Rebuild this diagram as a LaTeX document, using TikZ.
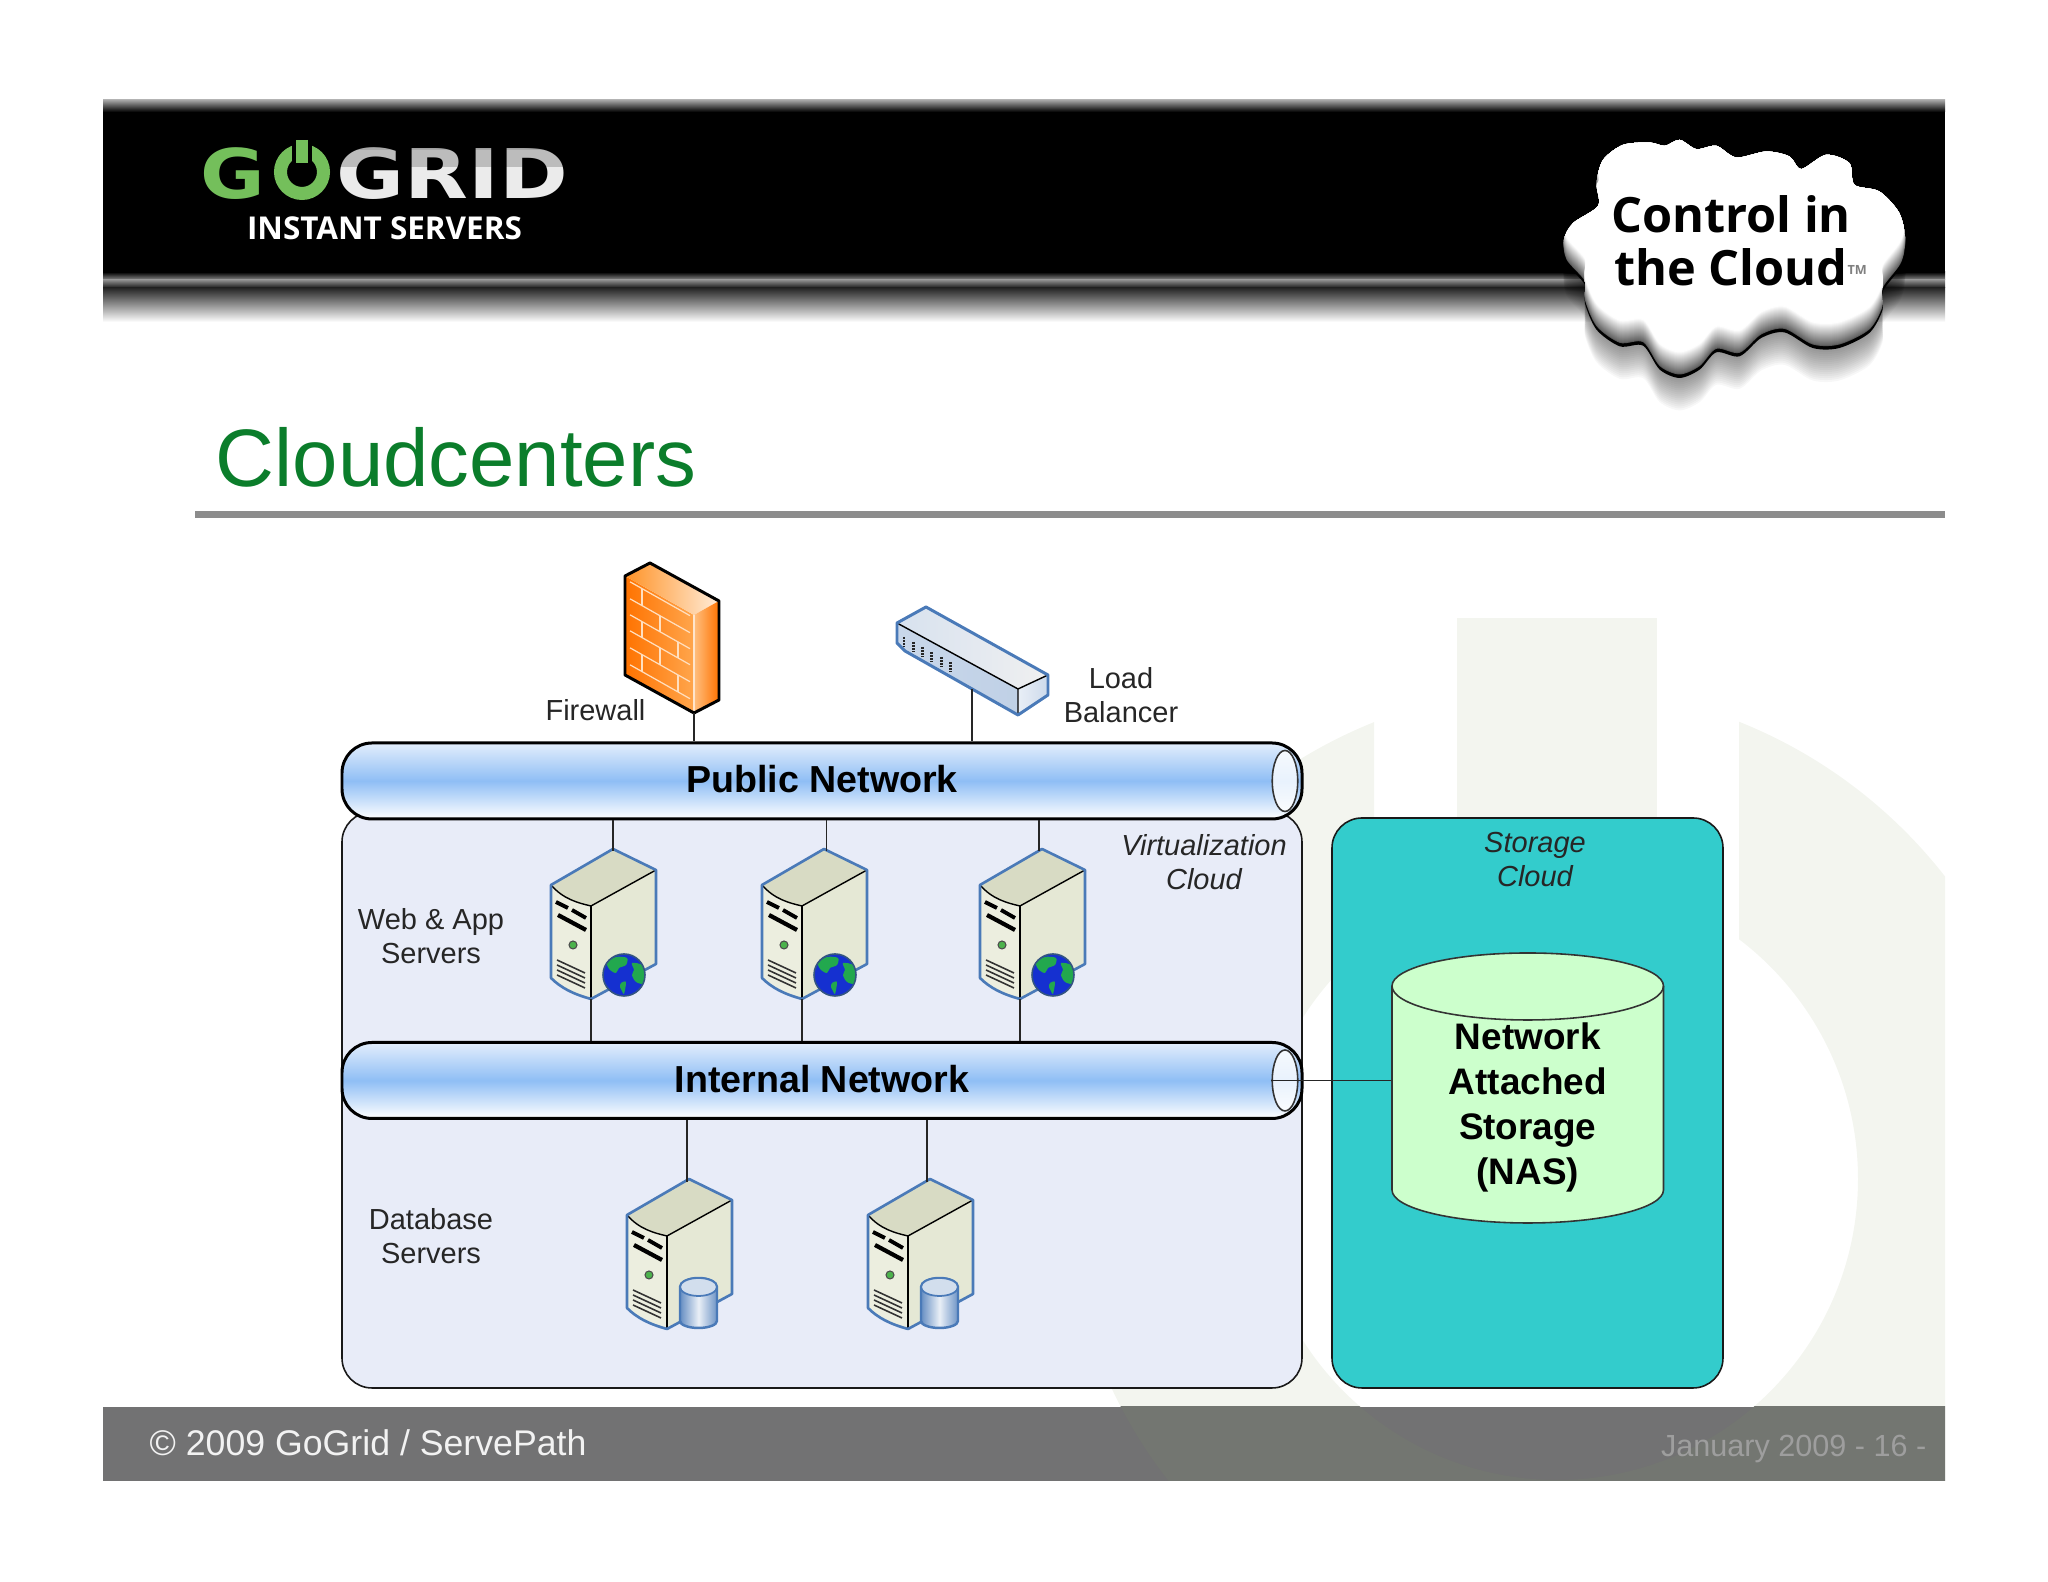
\documentclass[tikz,border=0pt]{standalone}
\usepackage{fontspec}
\setmainfont{Liberation Sans}
\newfontfamily\logofont{Open Sans}
\newfontfamily\logowide{DejaVu Sans}
\usetikzlibrary{shapes.geometric}

\definecolor{titlegreen}{HTML}{0B7D2B}
\definecolor{virtfill}{HTML}{E8ECF8}
\definecolor{storefill}{HTML}{33CCCC}
\definecolor{nasfill}{HTML}{CCFFCC}
\definecolor{pipemid}{HTML}{8FBEF5}
\definecolor{pipetop}{HTML}{E3EEFC}
\definecolor{srvblue}{HTML}{4A7AB8}
\definecolor{srvtop}{HTML}{D8DBC4}
\definecolor{srvfront}{HTML}{ECEEDF}
\definecolor{srvside}{HTML}{E5E8D5}
\definecolor{footgray}{HTML}{727273}
\definecolor{marktint}{HTML}{F3F5EF}
\definecolor{footmark}{HTML}{737671}
\definecolor{logogreen}{HTML}{74BF5B}
\definecolor{landgreen}{HTML}{22A84E}
\definecolor{seablue}{HTML}{1530D0}

\newcommand{\powerring}{(15.57,4.03) circle (4.92) (15.57,4.03) circle (3.01)}
\newcommand{\cloudshape}{plot[smooth cycle,tension=.5] coordinates {(170,190) (190,120) (250,75) (330,68) (375,78) (420,60) (470,88) (530,78) (590,113) (680,95) (750,110) (785,148) (860,105) (930,130) (945,195) (1020,215) (1080,280) (1098,360) (1085,430) (1030,505) (1030,560) (990,630) (900,675) (820,675) (735,628) (665,645) (600,700) (530,688) (480,740) (420,765) (360,740) (310,668) (240,670) (170,620) (135,540) (135,485) (80,420) (72,360) (100,310) (175,258)}}

\tikzset{
  link/.style={draw=black!85,line width=.5pt},
  netpipe/.style={draw=black,line width=.85pt,rounded corners=.3cm,minimum width=9.6cm,minimum height=.76cm,
    top color=pipetop,bottom color=white,middle color=pipemid,inner sep=0pt,font=\fontsize{10.7}{13}\selectfont\bfseries},
  pipeend/.style={ellipse,draw=black!80,fill=white,fill opacity=.8,line width=.45pt,minimum width=.255cm,minimum height=.61cm,inner sep=0pt},
  lbl/.style={align=center,inner sep=0pt,font=\fontsize{8.25}{9.7}\selectfont,text=black!85},
  cloudlbl/.style={lbl,font=\fontsize{8.25}{9.7}\selectfont\itshape},
  srvedge/.style={draw=srvblue,line width=.75pt,line join=round},
  servericon/.pic={
    \fill[srvside] (-.22,-.57) -- (.43,-.21) -- (.43,-1.15) -- (-.22,-1.50) -- cycle;
    \fill[srvfront] (-.62,-.36) .. controls (-.5,-.5) and (-.35,-.54) .. (-.22,-.57) -- (-.22,-1.50) .. controls (-.4,-1.45) and (-.52,-1.39) .. (-.62,-1.29) -- cycle;
    \fill[srvtop] (0,0) -- (.43,-.21) -- (-.22,-.57) .. controls (-.35,-.54) and (-.5,-.5) .. (-.62,-.36) -- cycle;
    \draw[black,line width=.4pt] (-.62,-.36) .. controls (-.5,-.5) and (-.35,-.54) .. (-.22,-.57) -- (.43,-.21);
    \draw[black,line width=.4pt] (-.22,-.57) -- (-.22,-1.50);
    \draw[srvedge] (0,0) -- (.43,-.21) -- (.43,-1.15) -- (-.22,-1.50) .. controls (-.4,-1.45) and (-.52,-1.39) .. (-.62,-1.29) -- (-.62,-.36) -- cycle;
    \draw[black,line width=1.1pt] (-.57,-.53) -- (-.45,-.59) (-.41,-.61) -- (-.27,-.69);
    \draw[black,line width=1.2pt] (-.55,-.66) -- (-.27,-.81);
    \fill[green!40!gray,draw=black!70,line width=.3pt] (-.40,-.96) circle (.04);
    \foreach \v in {0,1,2,3}
      \draw[black!80,line width=.45pt] (-.56,-1.11-.05*\v) -- (-.28,-1.24-.05*\v);
    \coordinate (-base) at (-.22,-1.50);
  },
  globeicon/.pic={
    \fill[seablue] (0,0) circle (.21);
    \begin{scope}
      \clip (0,0) circle (.21);
      \fill[landgreen] plot[smooth cycle] coordinates {(-.17,.12) (-.08,.18) (.03,.17) (.02,.1) (-.05,.07) (-.08,.02) (-.14,.05)};
      \fill[landgreen] plot[smooth cycle] coordinates {(.08,.12) (.19,.09) (.2,-.08) (.12,-.07) (.08,.0) (.1,.05)};
      \fill[landgreen] plot[smooth cycle] coordinates {(-.03,-.08) (.02,-.07) (.0,-.19) (-.02,-.16) (-.04,-.12)};
    \end{scope}
    \draw[srvblue!70!black,line width=.45pt] (0,0) circle (.21);
  },
  canicon/.pic={
    \shade[left color=srvblue!85,right color=srvblue!80,middle color=srvblue!12,draw=srvblue,line width=.7pt]
      (-.185,0) -- (-.185,-.34) arc[start angle=180,end angle=360,x radius=.185,y radius=.07] -- (.185,0) arc[start angle=0,end angle=180,x radius=.185,y radius=.09] -- cycle;
    \draw[srvblue,line width=.5pt,fill=srvblue!25] (0,0) ellipse[x radius=.185,y radius=.09];
  },
  firewallicon/.pic={
    \shade[left color=orange!90!red,right color=orange!70!white] (0,0) -- (.69,-.39) -- (.69,-1.37) -- (0,-.99) -- cycle;
    \shade[left color=orange!85,right color=orange!15!white] (0,0) -- (.25,.13) -- (.94,-.25) -- (.69,-.39) -- cycle;
    \shade[left color=orange!50!white,right color=orange!90!red] (.69,-.39) -- (.94,-.25) -- (.94,-1.24) -- (.69,-1.37) -- cycle;
    \begin{scope}[cm={1,-.565,0,1,(0,0)}]
      \foreach \v in {-.03,-.2,-.36,-.52,-.69,-.86}
        \draw[orange!25!white,line width=.35pt] (.05,\v) -- (.65,\v);
      \foreach \u/\va/\vb in {.17/-.03/-.2,.35/-.2/-.36,.17/-.36/-.52,.53/-.36/-.52,.35/-.52/-.69,.17/-.69/-.86,.53/-.69/-.86}
        \draw[orange!25!white,line width=.35pt] (\u,\va) -- (\u,\vb);
    \end{scope}
    \draw[orange!20!white,line width=.4pt] (.69,-.39) -- (.69,-1.37);
    \draw[black,line width=.85pt,line join=round] (0,0) -- (.25,.13) -- (.94,-.25) -- (.94,-1.24) -- (.69,-1.37) -- (0,-.99) -- cycle;
    \coordinate (-base) at (.69,-1.37);
  },
  balancericon/.pic={
    \shade[left color=srvblue!22,right color=black!6] (0,0) -- (.29,.16) -- (1.51,-.52) -- (1.21,-.66) -- cycle;
    \shade[left color=srvblue!30,right color=srvblue!35] (0,0) -- (1.21,-.66) -- (1.21,-.92) -- (.08,-.28) -- (0,-.2) -- cycle;
    \shade[left color=srvblue!12,right color=srvblue!28] (1.21,-.66) -- (1.51,-.52) -- (1.51,-.72) -- (1.21,-.92) -- cycle;
    \draw[black,line width=.4pt] (0,0) -- (1.21,-.66) -- (1.51,-.52) (1.21,-.66) -- (1.21,-.92);
    \draw[srvedge,line width=.85pt] (0,0) -- (.29,.16) -- (1.51,-.52) -- (1.51,-.72) -- (1.21,-.92) -- (.08,-.28) -- (0,-.2) -- cycle;
    \foreach \i in {0,...,5}
      \draw[black!85,line width=.8pt,dash pattern=on .6pt off .3pt] ({.07+.093*\i},{-.14-.05*\i}) -- ++(0,-.1);
    \coordinate (-base) at (.75,-.66);
  }
}

\begin{document}
\begin{tikzpicture}
\useasboundingbox (0,0) rectangle (20.48,15.82);

% background mark
\begin{scope}
  \clip (1.03,4.03) rectangle (13.74,14) (17.39,4.03) rectangle (19.45,14) (1.03,1.01) rectangle (19.45,4.03);
  \fill[marktint,even odd rule] \powerring;
\end{scope}
\fill[marktint] (14.57,9.64) rectangle (16.57,6);

% header
\shade[top color=black!35,bottom color=black] (1.03,14.82) rectangle (19.45,14.70);
\fill[black] (1.03,14.70) rectangle (19.45,13.10);
\shade[top color=black,bottom color=black!45] (1.03,13.10) rectangle (19.45,13.02);
\shade[top color=black!45,bottom color=black!90] (1.03,13.02) rectangle (19.45,12.94);
\shade[top color=black!85,middle color=black!45,bottom color=white] (1.03,12.94) rectangle (19.45,12.60);

% logo
\node[anchor=base west,inner sep=0pt,text=logogreen] (logog) at (2.00,13.83) {\logowide\fontsize{19.5}{20}\selectfont\bfseries\scalebox{1.15}[1]{G}};
\node[anchor=base west,inner sep=0pt,text=black!8] (logogrid) at (3.36,13.83) {\logowide\fontsize{19.5}{20}\selectfont\bfseries\scalebox{1.21}[1]{GRID}};
\draw[logogreen,line width=.13cm] (3.02,14.10) circle (.215);
\draw[black,line width=.2cm] (3.02,14.42) -- (3.02,14.12);
\draw[logogreen,line width=.12cm] (3.02,14.42) -- (3.02,14.19);
\foreach \y in {14.32,14.36,14.40,14.44,14.48,14.52}
  \fill[black,opacity=.1] (3.3,14.6) rectangle (5.7,\y);
\fill[black,opacity=.2] (3.3,14.6) rectangle (5.7,14.15);
\node[anchor=base,inner sep=0pt,text=white] (logosub) at (3.845,13.42) {\logofont\fontsize{8.95}{10}\selectfont\bfseries INSTANT SERVERS};

% cloud badge
\begin{scope}[shift={(15.40,14.62)},x=.003333cm,y=-.003333cm]
  \foreach \s in {36,34,...,2}
    \fill[black,opacity=.03,yshift=-\s*.01cm] \cloudshape;
  \fill[black,yshift=-.035cm] \cloudshape;
  \begin{scope}
    \clip \cloudshape;
    \fill[black!65] (0,0) rectangle (1200,800);
    \foreach \s in {1,...,24} {
      \pgfmathsetmacro\g{max(0,62-2.8*\s)}
      \fill[black!\g,yshift=\s*.01cm] \cloudshape;
    }
  \end{scope}
\end{scope}
\node[align=center,inner sep=0pt,text=black,font=\logofont\fontsize{13.85}{15.2}\selectfont\bfseries] (badge) at (17.31,13.41) {Control in\\the Cloud\rlap{\fontsize{3.6}{4}\selectfont\raisebox{1.6ex}{\textcolor{black!50}{TM}}}};

% title
\node[anchor=base west,inner sep=0pt,text=titlegreen] (title) at (2.15,10.95) {\fontsize{23.2}{26}\selectfont Cloudcenters};
\fill[black!45] (1.95,10.71) rectangle (19.45,10.64);

% clouds
\draw[draw=black!90,line width=.45pt,fill=virtfill,rounded corners=.3cm] (3.42,7.70) rectangle ++(9.6,-5.76);
\draw[draw=black!90,line width=.45pt,fill=storefill,rounded corners=.3cm] (13.32,7.64) rectangle ++(3.91,-5.70);

\node[cloudlbl] (virtlbl) at (12.04,7.20) {Virtualization\\Cloud};
\node[cloudlbl] (storelbl) at (15.35,7.22) {Storage\\Cloud};
\node[lbl] (weblbl) at (4.31,6.46) {Web \& App\\Servers};
\node[lbl] (dblbl) at (4.31,3.46) {Database\\Servers};
\node[lbl,anchor=base] (fwlbl) at (5.955,8.61) {Firewall};
\node[lbl] (lblbl) at (11.21,8.87) {Load\\Balancer};

% networks
\node[netpipe] (pubnet) at (8.22,8.01) {\raisebox{.035cm}{Public Network}};
\node[netpipe] (intnet) at (8.22,5.015) {\raisebox{.025cm}{Internal Network}};
\node[pipeend] (pubend) at (12.85,8.01) {};
\node[pipeend] (intend) at (12.85,5.015) {};

% storage
\draw[draw=black!80,line width=.45pt,fill=nasfill] (13.92,5.96) -- (13.92,3.92)
  arc[start angle=180,end angle=360,x radius=1.3575,y radius=.33] -- (16.635,5.96)
  arc[start angle=0,end angle=180,x radius=1.3575,y radius=.33] -- cycle;
\draw[draw=black!80,line width=.45pt] (13.92,5.96) arc[start angle=180,end angle=360,x radius=1.3575,y radius=.34];
\node[minimum width=2.715cm,align=center,inner sep=0pt,font=\fontsize{10.5}{12.8}\selectfont\bfseries] (nas) at (15.2775,4.75) {Network\\Attached\\Storage\\(NAS)};

% devices
\pic (fw) at (6.25,10.06) {firewallicon};
\pic (lb) at (8.97,9.59) {balancericon};
\foreach \name/\x/\tap in {web1/6.13/6.13,web2/8.24/8.265,web3/10.42/10.39} {
  \pic (\name) at (\x,7.33) {servericon};
  \pic (\name-globe) at (\x+.11,6.07) {globeicon};
  \coordinate (\name-tap) at (\tap,7.31);
  \draw[link] (\name-tap) -- (\name-tap |- pubnet.south);
  \draw[link] (\name-base) -- (\name-base |- intnet.north);
}
\foreach \name/\x/\tap in {db1/6.89/6.87,db2/9.30/9.27} {
  \pic (\name) at (\x,4.03) {servericon};
  \pic (\name-can) at (\x+.095,2.95) {canicon};
  \coordinate (\name-tap) at (\tap,4.00);
  \draw[link] (\name-tap) -- (\name-tap |- intnet.south);
}

\draw[link] (fw-base) -- (fw-base |- pubnet.north);
\draw[link] (lb-base) -- (lb-base |- pubnet.north);
\draw[link] (intend.west) -- (intend.west -| nas.west);

% footer
\fill[footgray] (1.03,1.75) rectangle (19.45,1.01);
\begin{scope}
  \clip (1.03,1.75) rectangle (19.45,1.01);
  \fill[footmark,even odd rule] \powerring;
\end{scope}
\node[anchor=base west,inner sep=0pt,text=black!5] (copyright) at (1.49,1.26) {\fontsize{10.15}{12}\selectfont © 2009 GoGrid / ServePath};
\node[anchor=base east,inner sep=0pt,text=black!38] (pagenum) at (19.27,1.25) {\fontsize{8.7}{10}\selectfont January 2009 - 16 -};
\end{tikzpicture}
\end{document}
